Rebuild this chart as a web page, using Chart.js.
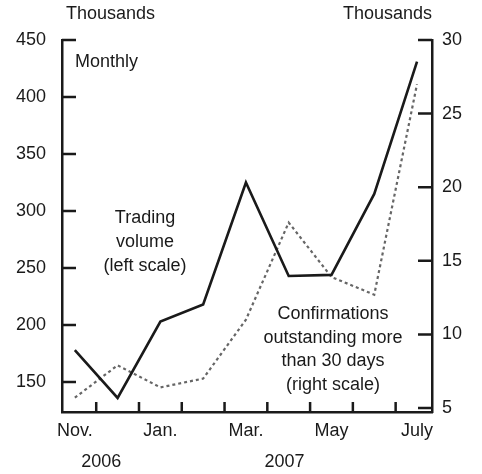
<!DOCTYPE html>
<html>
<head>
<meta charset="utf-8">
<script src="https://cdn.jsdelivr.net/npm/chart.js@4"></script>
<style>
  html, body { margin: 0; padding: 0; background: #fff; }
  #wrap { width: 482px; height: 474px; }
</style>
</head>
<body>
<div id="wrap"><canvas id="chart" width="482" height="474"></canvas></div>
<script>
// Month categories (Nov. 2006 to July 2007)
const months = ["Nov.", "Dec.", "Jan.", "Feb.", "Mar.", "Apr.", "May", "June", "July"];
const years = ["2006", "2007"];
const yearCentre = [0.62, 4.9];         // month index under which each year label sits
// Trading volume, thousands (left scale)
const tradingVolume = [178, 136, 203, 218, 325, 243, 244, 315, 431];
// Confirmations outstanding more than 30 days, thousands (right scale)
const confirmations = [5.7, 7.9, 6.4, 7.0, 11.0, 17.6, 13.9, 12.7, 27.0];
const leftTicks = [150, 200, 250, 300, 350, 400, 450];
const rightTicks = [5, 10, 15, 20, 25, 30];

const FONT = "'Liberation Sans', Arial, sans-serif";
const INK = "#1a1a1a";

const innerTicks = {
    id: "innerTicks",
    afterDraw(chart) {
        const ctx = chart.ctx;
        const area = chart.chartArea;
        const x = chart.scales.x, yL = chart.scales.yL, yR = chart.scales.yR;
        ctx.save();
        ctx.strokeStyle = INK;
        ctx.lineWidth = 2.5;
        ctx.beginPath();
        leftTicks.forEach(v => {
            const p = yL.getPixelForValue(v);
            ctx.moveTo(area.left, p); ctx.lineTo(area.left + 14, p);
        });
        rightTicks.forEach(v => {
            const p = yR.getPixelForValue(v);
            ctx.moveTo(area.right, p); ctx.lineTo(area.right - 14, p);
        });
        for (let i = 0; i < months.length - 1; i++) {
            const p = x.getPixelForValue(i + 0.5);
            ctx.moveTo(p, area.bottom); ctx.lineTo(p, area.bottom - 10);
        }
        ctx.stroke();

        // texts
        ctx.fillStyle = INK;
        ctx.font = "18px " + FONT;
        ctx.textBaseline = "middle";
        ctx.textAlign = "left";
        ctx.fillText("Thousands", area.left + 4, 14);
        ctx.fillText("Monthly", area.left + 13, 62);
        ctx.textAlign = "right";
        ctx.fillText("Thousands", area.right, 14);

        ctx.textAlign = "center";
        ["Trading", "volume", "(left scale)"].forEach((t, i) => ctx.fillText(t, 145, 218 + i * 24));
        ["Confirmations", "outstanding more", "than 30 days", "(right scale)"]
            .forEach((t, i) => ctx.fillText(t, 333, 314 + i * 23.7));

        years.forEach((yr, i) => ctx.fillText(yr, x.getPixelForValue(yearCentre[i]), 462));
        ctx.restore();
    }
};

new Chart(document.getElementById("chart").getContext("2d"), {
    type: "line",
    data: {
        datasets: [{
            label: "Trading volume (left scale)",
            data: tradingVolume.map((v, i) => ({ x: i, y: v })),
            yAxisID: "yL",
            borderColor: INK,
            borderWidth: 2.6,
            pointRadius: 0,
            tension: 0
        }, {
            label: "Confirmations outstanding more than 30 days (right scale)",
            data: confirmations.map((v, i) => ({ x: i, y: v })),
            yAxisID: "yR",
            borderColor: "#666",
            borderWidth: 2.2,
            borderDash: [3, 3],
            pointRadius: 0,
            tension: 0
        }]
    },
    options: {
        responsive: false,
        animation: false,
        layout: { padding: { top: 40, left: 0, right: 0, bottom: 0 } },
        plugins: { legend: { display: false }, tooltip: { enabled: false } },
        scales: {
            x: {
                type: "linear",
                min: -0.3,
                max: 8.35,
                afterBuildTicks: s => { s.ticks = months.map((m, i) => ({ value: i })); },
                afterFit: s => { s.height = 62; },
                grid: { display: false, drawTicks: false },
                border: { display: true, color: INK, width: 2.5 },
                ticks: {
                    autoSkip: false,
                    maxRotation: 0,
                    padding: 8,
                    color: INK,
                    font: { family: FONT, size: 18 },
                    callback: v => (v % 2 === 0 ? months[v] : "")
                }
            },
            yL: {
                position: "left",
                min: 123.7,
                max: 450,
                afterBuildTicks: s => { s.ticks = leftTicks.map(v => ({ value: v })); },
                afterFit: s => { s.width = 62; },
                grid: { display: false, drawTicks: false },
                border: { display: true, color: INK, width: 2.5 },
                ticks: { padding: 16, color: INK, font: { family: FONT, size: 18 } }
            },
            yR: {
                position: "right",
                min: 4.73,
                max: 30,
                afterBuildTicks: s => { s.ticks = rightTicks.map(v => ({ value: v })); },
                afterFit: s => { s.width = 50; },
                grid: { display: false, drawTicks: false },
                border: { display: true, color: INK, width: 2.5 },
                ticks: { padding: 10, color: INK, font: { family: FONT, size: 18 } }
            }
        }
    },
    plugins: [innerTicks]
});
</script>
</body>
</html>
